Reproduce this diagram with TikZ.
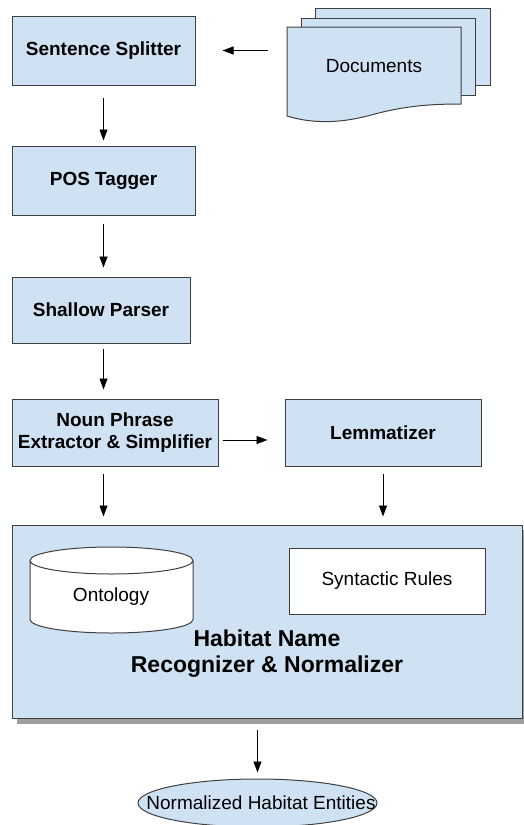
\documentclass[tikz,border=0pt]{standalone}
\usepackage{fontspec}
\setmainfont{Liberation Sans}
\usetikzlibrary{arrows.meta,shapes.geometric,positioning}

\definecolor{boxblue}{HTML}{CFE2F3}
\definecolor{edgegray}{HTML}{404040}

\begin{document}
\begin{tikzpicture}[x=1pt, y=1pt,
  box/.style={draw=edgegray, fill=boxblue, line width=1pt, rectangle, align=center, inner sep=0pt,
    font=\fontsize{19}{22}\selectfont\bfseries},
  plain/.style={font=\fontsize{19}{22}\selectfont},
  sheet/.style={draw=edgegray, fill=boxblue, line width=1pt},
  flow/.style={-{Triangle[length=11pt,width=8pt]}, line width=0.9pt},
]
\useasboundingbox (0,0) rectangle (524,-825);

% pipeline boxes
\node[box, minimum width=183pt, minimum height=69pt] (ss) at (103.5,-50.5) {Sentence Splitter};
\node[box, minimum width=183pt, minimum height=69pt] (pos) at (103.5,-180.5) {POS Tagger};
\node[box, minimum width=178pt, minimum height=66pt] (shallow) at (101,-310) {Shallow Parser};
\node[box, minimum width=206pt, minimum height=67pt] (noun) at (115,-432.5) {Noun Phrase\\Extractor \& Simplifier};
\node[box, minimum width=196pt, minimum height=67pt] (lemma) at (383,-432.5) {Lemmatizer};

% documents
\draw[sheet] (315,-8) rectangle (490,-85);
\draw[sheet] (301,-18) rectangle (475,-95);
\draw[sheet] (287,-27) -- (461,-27) -- (461,-104)
  .. controls (430,-104) and (405,-106) .. (375,-114)
  .. controls (350,-121) and (320,-126) .. (287,-116) -- cycle;
\node[plain] (docs) at (374,-66) {Documents};
\coordinate (docsin) at (268,-50.5);

% recognizer
\fill[gray!75] (17,-530) rectangle (527,-724);
\node[box, minimum width=510pt, minimum height=193pt] (big) at (267,-621.5) {};
\draw[sheet, fill=white] (30,-560.5) -- (30,-619.5)
  arc[start angle=180, end angle=360, x radius=81.5, y radius=13.5]
  -- (193,-560.5)
  arc[start angle=0, end angle=360, x radius=81.5, y radius=13.5];
\node[plain] (onto) at (111,-597) {Ontology};
\node[box, fill=white, font=\fontsize{19}{22}\selectfont, minimum width=196pt, minimum height=66pt] (rules) at (387,-581) {Syntactic Rules};
\node[align=center, font=\fontsize{23}{26}\selectfont\bfseries] (hab) at (267,-654) {Habitat Name\\Recognizer \& Normalizer};

\node[ellipse, draw=edgegray, fill=boxblue, line width=1pt, inner sep=0pt,
  minimum width=239pt, minimum height=48pt] (ent) at (257.5,-803) {};
\node[plain] (entlabel) at (261,-803) {Normalized Habitat Entities};

% arrows
\draw[flow, shorten >=27pt] (docsin) -- (ss.east);
\draw[flow, shorten <=12pt, shorten >=5pt] (ss.south) -- (pos.north);
\draw[flow, shorten <=8pt, shorten >=9pt] (pos.south) -- (pos.south |- shallow.north);
\draw[flow, shorten <=5pt, shorten >=9pt] (pos.south |- shallow.south) -- (pos.south |- noun.north);
\draw[flow, shorten <=4pt, shorten >=17pt] ([yshift=-7.5pt]noun.east) -- ([yshift=-7.5pt]noun.east -| lemma.west);
\draw[flow, shorten <=7pt, shorten >=8pt] (ss.south |- noun.south) -- (ss.south |- big.north);
\draw[flow, shorten <=7pt, shorten >=8pt] (lemma.south) -- (lemma.south |- big.north);
\draw[flow, shorten <=11pt, shorten >=6pt] (ent.north |- big.south) -- (ent.north);

\end{tikzpicture}
\end{document}
